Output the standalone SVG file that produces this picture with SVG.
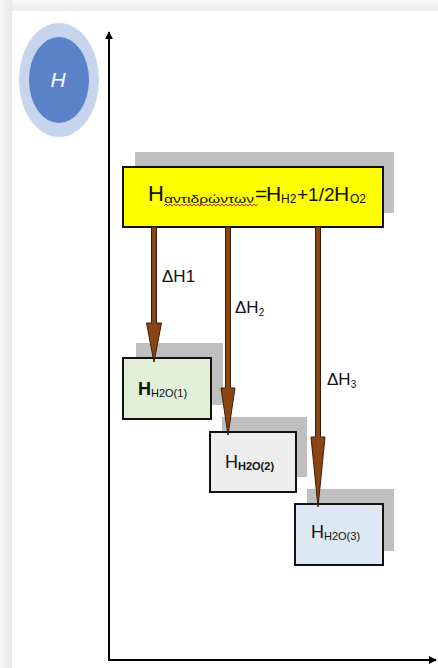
<svg xmlns="http://www.w3.org/2000/svg" width="438" height="668" viewBox="0 0 438 668">
  <defs>
    <linearGradient id="edgeTop" x1="0" y1="0" x2="0" y2="1">
      <stop offset="0" stop-color="#f7f7f7"/>
      <stop offset="1" stop-color="#ececec"/>
    </linearGradient>
    <linearGradient id="edgeLeft" x1="0" y1="0" x2="1" y2="0">
      <stop offset="0" stop-color="#f7f7f7"/>
      <stop offset="1" stop-color="#e8e8e8"/>
    </linearGradient>
    <marker id="axisHead" viewBox="0 0 10 10" refX="9" refY="5" markerWidth="4" markerHeight="4" orient="auto" markerUnits="strokeWidth">
      <path d="M0,0 L10,5 L0,10 Z" fill="#000"/>
    </marker>
  </defs>
  <style>
    .shadow { fill: #bfbfbf; }
    .box { stroke: #111; stroke-width: 2; }
    .lbl { font-family: "Liberation Sans", Arial, sans-serif; fill: #111; }
    .shaft { fill: #8b4513; stroke: #3a1a08; stroke-width: 1; }
    .axis { stroke: #000; stroke-width: 2; fill: none; }
  </style>

  <!-- page background and panel -->
  <rect x="0" y="0" width="438" height="668" fill="#f4f4f4"/>
  <rect x="0" y="0" width="438" height="12" fill="url(#edgeTop)"/>
  <rect x="0" y="0" width="12" height="668" fill="url(#edgeLeft)"/>
  <rect x="12" y="11" width="426" height="657" fill="#ffffff"/>

  <!-- badge -->
  <g id="badge">
    <ellipse cx="59" cy="80" rx="40" ry="57" fill="#c6d4ee"/>
    <ellipse cx="59" cy="80" rx="30" ry="43" fill="#5b82c9"/>
    <text x="58" y="87" text-anchor="middle" font-family="Liberation Sans, Arial, sans-serif" font-style="italic" font-size="21" fill="#ffffff">H</text>
  </g>

  <!-- axes -->
  <g id="axes">
    <line class="axis" x1="109" y1="660" x2="109" y2="32" marker-end="url(#axisHead)"/>
    <line class="axis" x1="108" y1="660" x2="436" y2="660" marker-end="url(#axisHead)"/>
  </g>

  <!-- reactant level -->
  <g id="reactants">
    <rect class="shadow" x="135" y="152" width="259" height="61"/>
    <rect class="box" x="123" y="167" width="260" height="60" fill="#ffff00"/>
    <text class="lbl" x="148" y="201" font-size="22">H</text>
    <text class="lbl" x="164" y="203" font-size="10" textLength="90" lengthAdjust="spacingAndGlyphs">αντιδρώντων</text>
    <text class="lbl" x="255" y="201" font-size="21">=</text>
    <text class="lbl" x="266" y="201" font-size="21">H</text>
    <text class="lbl" x="281" y="203" font-size="12">H2</text>
    <text class="lbl" x="297" y="201" font-size="19">+1/2</text>
    <text class="lbl" x="334" y="201" font-size="21">H</text>
    <text class="lbl" x="350" y="203" font-size="12">O2</text>
    <path d="M164,206 l2,-2 l2,2 l2,-2 l2,2 l2,-2 l2,2 l2,-2 l2,2 l2,-2 l2,2 l2,-2 l2,2 l2,-2 l2,2 l2,-2 l2,2 l2,-2 l2,2 l2,-2 l2,2 l2,-2 l2,2 l2,-2 l2,2 l2,-2 l2,2 l2,-2 l2,2 l2,-2 l2,2 l2,-2 l2,2 l2,-2 l2,2 l2,-2 l2,2 l2,-2 l2,2 l2,-2 l2,2 l2,-2 l2,2 l2,-2 l2,2 l2,-2 l2,2 l2,-2" fill="none" stroke="#d42020" stroke-width="1"/>
  </g>

  <!-- product levels -->
  <g id="water1">
    <rect class="shadow" x="136" y="343" width="87" height="62"/>
    <rect class="box" x="123" y="358" width="88" height="61" fill="#e2efd9"/>
    <text class="lbl" x="138" y="395" font-size="18" font-weight="bold">H<tspan font-size="11" dy="2" font-weight="normal">H2O(1)</tspan></text>
  </g>
  <g id="water2">
    <rect class="shadow" x="222" y="417" width="85" height="60"/>
    <rect class="box" x="210" y="432" width="86" height="60" fill="#ededed"/>
    <text class="lbl" x="225" y="468" font-size="18">H<tspan font-size="11" dy="2" font-weight="bold">H2O(2)</tspan></text>
  </g>
  <g id="water3">
    <rect class="shadow" x="307" y="489" width="87" height="62"/>
    <rect class="box" x="295" y="504" width="88" height="61" fill="#dde8f5"/>
    <text class="lbl" x="311" y="538" font-size="18">H<tspan font-size="11" dy="2">H2O(3)</tspan></text>
  </g>

  <!-- enthalpy arrows -->
  <g id="connectors">
    <path class="shaft" d="M151.5,227 H156.5 V323 H161.5 L154,362 L146.5,323 H151.5 Z"/>
    <path class="shaft" d="M225.5,227 H230.5 V388 H235 L228,435 L221,388 H225.5 Z"/>
    <path class="shaft" d="M315.5,227 H320.5 V437 H325 L318,507 L311,437 H315.5 Z"/>
  </g>

  <!-- enthalpy change labels -->
  <g id="labels">
    <text class="lbl" x="162" y="282" font-size="17">ΔH1</text>
    <text class="lbl" x="235" y="313" font-size="17">ΔH<tspan font-size="10" dy="3">2</tspan></text>
    <text class="lbl" x="327" y="385" font-size="17">ΔH<tspan font-size="10" dy="3">3</tspan></text>
  </g>
</svg>
